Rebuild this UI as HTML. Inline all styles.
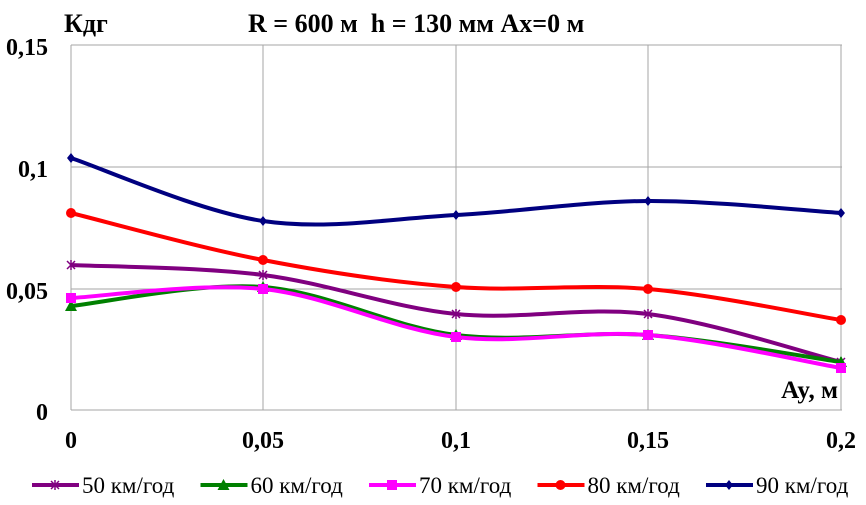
<!DOCTYPE html>
<html><head><meta charset="utf-8"><style>
body{margin:0;background:#fff}
svg{display:block;font-family:"Liberation Serif",serif}
</style></head><body>
<svg id="s" width="866" height="505" xmlns="http://www.w3.org/2000/svg">
<g stroke="#a6a6a6" stroke-width="1">
<line x1="71" y1="45" x2="842" y2="45"/><line x1="71" y1="167" x2="842" y2="167"/><line x1="71" y1="289" x2="842" y2="289"/>
<line x1="71" y1="45" x2="71" y2="410"/><line x1="263" y1="45" x2="263" y2="410"/><line x1="456" y1="45" x2="456" y2="410"/><line x1="648" y1="45" x2="648" y2="410"/><line x1="841" y1="45" x2="841" y2="410"/>
<line x1="71" y1="410" x2="842" y2="410"/>
</g>
<g font-size="24" font-weight="bold" text-anchor="end">
<text x="48" y="55">0,15</text><text x="48" y="177">0,1</text><text x="48" y="299">0,05</text><text x="48" y="420">0</text>
</g>
<g font-size="24" font-weight="bold" text-anchor="middle">
<text x="71" y="448">0</text><text x="263" y="448">0,05</text><text x="456" y="448">0,1</text><text x="648" y="448">0,15</text><text x="841" y="448">0,2</text>
</g>
<text x="64" y="32" font-size="26" font-weight="bold">Кдг</text>
<text x="248" y="32" font-size="26" font-weight="bold" xml:space="preserve">R = 600 м  h = 130 мм Ax=0 м</text>
<text x="838" y="398" font-size="25" font-weight="bold" text-anchor="end">Ay, м</text>
<g id="series"></g>
<g id="legend" font-size="23"></g>
</svg>
<script>
var xs=[71,263,456,648,841];
var S=[
["#800080",[265,275,314,314,362],"x","50 км/год"],
["#008000",[306,287,335,335,362],"t","60 км/год"],
["#ff00ff",[298,289,337,335,368],"s","70 км/год"],
["#ff0000",[213,260,287,289,320],"c","80 км/год"],
["#000080",[158,221,215,201,213],"d","90 км/год"]];
function path(ys){var p="M"+xs[0]+","+ys[0];for(var i=0;i<4;i++){var x0=xs[i-1]!==undefined?xs[i-1]:xs[i],y0=i>0?ys[i-1]:ys[i];var x3=i+2<5?xs[i+2]:xs[i+1],y3=i+2<5?ys[i+2]:ys[i+1];var t=6;p+=" C"+(xs[i]+(xs[i+1]-x0)/t)+","+(ys[i]+(ys[i+1]-y0)/t)+" "+(xs[i+1]-(x3-xs[i])/t)+","+(ys[i+1]-(y3-ys[i])/t)+" "+xs[i+1]+","+ys[i+1];}return p;}
function mk(k,x,y,c){if(k=="x")return '<path d="M'+(x-4)+','+(y-4)+'L'+(x+4)+','+(y+4)+'M'+(x-4)+','+(y+4)+'L'+(x+4)+','+(y-4)+'M'+x+','+(y-5)+'V'+(y+5)+'" stroke="'+c+'" stroke-width="1.5"/>';
if(k=="t")return '<polygon points="'+x+','+(y-6)+' '+(x+6)+','+(y+5)+' '+(x-6)+','+(y+5)+'" fill="'+c+'"/>';
if(k=="s")return '<rect x="'+(x-5)+'" y="'+(y-5)+'" width="10" height="10" fill="'+c+'"/>';
if(k=="c")return '<circle cx="'+x+'" cy="'+y+'" r="5" fill="'+c+'"/>';
return '<polygon points="'+x+','+(y-5)+' '+(x+4)+','+y+' '+x+','+(y+5)+' '+(x-4)+','+y+'" fill="'+c+'"/>';}
var h="",l="";
S.forEach(function(s,j){h+='<path d="'+path(s[1])+'" fill="none" stroke="'+s[0]+'" stroke-width="4"/>';s[1].forEach(function(y,i){h+=mk(s[2],xs[i],y,s[0]);});
var lx=32+j*168.5;l+='<line x1="'+lx+'" y1="485" x2="'+(lx+47)+'" y2="485" stroke="'+s[0]+'" stroke-width="4"/>'+mk(s[2],lx+23,485,s[0])+'<text x="'+(lx+50)+'" y="493">'+s[3]+'</text>';});
document.getElementById("series").innerHTML=h;document.getElementById("legend").innerHTML=l;
</script>
</body></html>
